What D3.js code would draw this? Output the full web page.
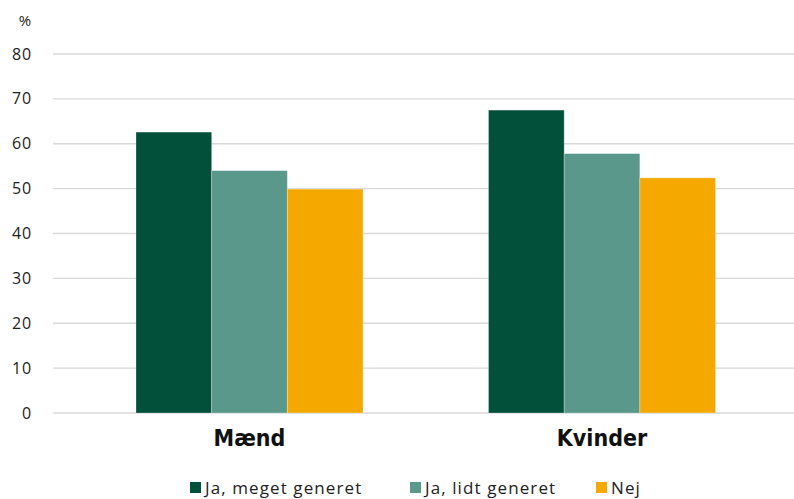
<!DOCTYPE html>
<html><head><meta charset="utf-8">
<script src="https://cdn.jsdelivr.net/npm/d3@7"></script>
<style>body{margin:0;background:#fff}svg{display:block}</style>
</head><body>
<svg id="c" width="794" height="499"></svg>
<script>
const categories = ["Mænd", "Kvinder"];
const seriesNames = ["Ja, meget generet", "Ja, lidt generet", "Nej"];
const seriesColors = ["#024f3a", "#59988b", "#f5a800"];
const valuesMeget = [62.6, 67.5];
const valuesLidt = [54.0, 57.8];
const valuesNej = [49.9, 52.4];
const yTicks = [0, 10, 20, 30, 40, 50, 60, 70, 80];
const series = [valuesMeget, valuesLidt, valuesNej];

const svg = d3.select("#c");
const font = "'Open Sans', Lato, sans-serif";
const y = d3.scaleLinear().domain([0, 80]).range([413, 54]);
const x = d3.scaleBand().domain(categories).range([73.25, 778.25]).paddingInner(0.356).paddingOuter(0.178);
const xs = d3.scaleBand().domain(d3.range(series.length)).range([0, x.bandwidth()]);

// gridlines
svg.append("g").selectAll("line").data(yTicks).join("line")
  .attr("x1", 53).attr("x2", 794)
  .attr("y1", d => y(d)).attr("y2", d => y(d))
  .attr("stroke", "#d9d9d9").attr("stroke-width", 1.3);

// y labels
svg.append("g").selectAll("text").data(yTicks).join("text")
  .attr("x", 32).attr("y", d => y(d)).attr("dy", "0.35em")
  .attr("text-anchor", "end").attr("font-family", font).attr("font-size", 16).attr("fill", "#222")
  .attr("letter-spacing", 0.8)
  .text(d => d);
svg.append("text").attr("x", 25).attr("y", 21).attr("dy", "0.35em").attr("text-anchor", "middle")
  .attr("font-family", font).attr("font-size", 15).attr("fill", "#222").text("%");

// bars
series.forEach((vals, si) => {
  svg.append("g").selectAll("rect").data(categories).join("rect")
    .attr("x", (c) => x(c) + xs(si))
    .attr("width", xs.bandwidth())
    .attr("y", (c, i) => y(vals[i]))
    .attr("height", (c, i) => y(0) - y(vals[i]))
    .attr("fill", seriesColors[si])
    .attr("stroke", "rgba(255,255,255,0.35)").attr("stroke-width", 0.8);
});

// category labels
svg.append("g").selectAll("text").data(categories).join("text")
  .attr("x", c => x(c) + x.bandwidth() / 2).attr("y", 438).attr("dy", "0.35em")
  .attr("text-anchor", "middle")
  .attr("font-family", "'Liberation Sans Narrow', 'DejaVu Sans Condensed', sans-serif")
  .attr("font-weight", "bold").attr("font-size", 23).attr("fill", "#111")
  .text(c => c);

// legend
const legendX = [190, 410, 596];
const lg = svg.append("g").selectAll("g").data(seriesNames).join("g")
  .attr("transform", (d, i) => `translate(${legendX[i]},482)`);
lg.append("rect").attr("x", 0).attr("y", 0).attr("width", 11).attr("height", 11)
  .attr("fill", (d, i) => seriesColors[i]);
lg.append("text").attr("x", 15).attr("y", 6).attr("dy", "0.35em")
  .attr("font-family", font).attr("font-size", 17).attr("fill", "#222")
  .attr("letter-spacing", 1.1)
  .text(d => d);
</script>
</body></html>
